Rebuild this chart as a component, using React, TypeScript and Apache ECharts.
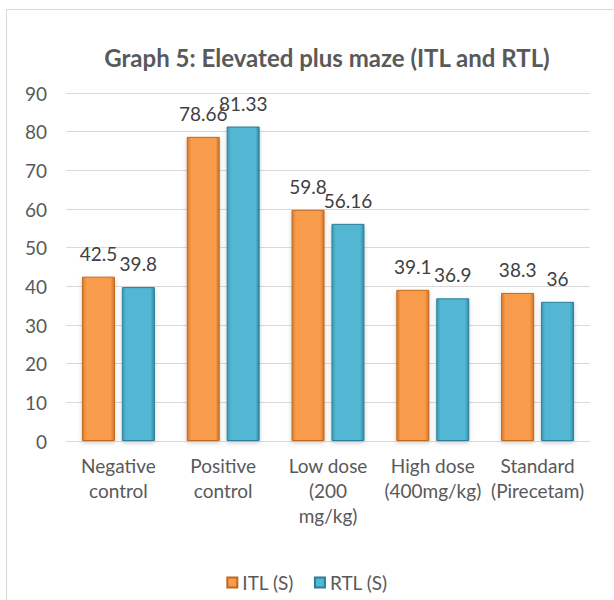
import React, { useEffect, useRef } from "react";
import * as echarts from "echarts";

const categories = ["Negative\ncontrol", "Positive\ncontrol", "Low dose\n(200\nmg/kg)", "High dose\n(400mg/kg)", "Standard\n(Pirecetam)"];
const itlValues = [42.5, 78.66, 59.8, 39.1, 38.3];
const rtlValues = [39.8, 81.33, 56.16, 36.9, 36];
const seriesNames = ["ITL (S)", "RTL (S)"];

const orangeGrad = new echarts.graphic.LinearGradient(0, 0, 1, 0, [
  { offset: 0, color: "#D97A2B" },
  { offset: 0.12, color: "#F89B4C" },
  { offset: 0.88, color: "#F89B4C" },
  { offset: 1, color: "#D07328" },
]);
const blueGrad = new echarts.graphic.LinearGradient(0, 0, 1, 0, [
  { offset: 0, color: "#3A9AB5" },
  { offset: 0.12, color: "#53B7D3" },
  { offset: 0.88, color: "#53B7D3" },
  { offset: 1, color: "#338CA5" },
]);

export default function App() {
  const ref = useRef<HTMLDivElement>(null);
  useEffect(() => {
    const chart = echarts.init(ref.current!, null, { renderer: "svg" });
    const font = "Lato, 'Open Sans', sans-serif";
    chart.setOption({
      animation: false,
      backgroundColor: "#fff",
      textStyle: { fontFamily: font },
      graphic: [
        {
          type: "rect",
          shape: { x: 6.5, y: 9.5, width: 620, height: 600 },
          style: { fill: "none", stroke: "#D9D9D9", lineWidth: 1 },
        },
      ],
      title: {
        text: "Graph 5: Elevated plus maze (ITL and RTL)",
        left: 322,
        textAlign: "center",
        top: 40,
        textStyle: { fontSize: 24, fontWeight: "bold", color: "#595959", fontFamily: font },
      },
      legend: {
        data: seriesNames,
        top: 568,
        left: "center",
        itemWidth: 10,
        itemHeight: 10,
        itemGap: 20,
        icon: "rect",
        textStyle: { fontSize: 19, color: "#595959", fontFamily: font },
      },
      grid: { left: 66, right: 24, top: 93, bottom: 159, containLabel: false },
      xAxis: {
        type: "category",
        data: categories,
        axisLine: { lineStyle: { color: "#D9D9D9" } },
        axisTick: { show: false },
        axisLabel: { fontSize: 19, color: "#595959", lineHeight: 25, margin: 12, interval: 0, fontFamily: font },
      },
      yAxis: {
        type: "value",
        min: 0,
        max: 90,
        interval: 10,
        axisLine: { show: false },
        axisTick: { show: false },
        splitLine: { lineStyle: { color: "#D9D9D9" } },
        axisLabel: { fontSize: 19, color: "#595959", margin: 19, fontFamily: font },
      },
      series: [
        {
          name: seriesNames[0],
          type: "bar",
          data: itlValues,
          barWidth: 33,
          barGap: "21%",
          itemStyle: { color: orangeGrad, borderColor: "#C0691F", borderWidth: 1, shadowBlur: 4, shadowColor: "rgba(0,0,0,0.2)", shadowOffsetY: 2 },
          label: { show: true, position: "top", fontSize: 19, color: "#404040", distance: 14, fontFamily: font },
        },
        {
          name: seriesNames[1],
          type: "bar",
          data: rtlValues,
          barWidth: 33,
          itemStyle: { color: blueGrad, borderColor: "#2A7F98", borderWidth: 1, shadowBlur: 4, shadowColor: "rgba(0,0,0,0.2)", shadowOffsetY: 2 },
          label: { show: true, position: "top", fontSize: 19, color: "#404040", distance: 14, fontFamily: font },
        },
      ],
    });
    return () => chart.dispose();
  }, []);
  return <div ref={ref} style={{ position: "absolute", left: 0, top: 0, width: 614, height: 600 }} />;
}
